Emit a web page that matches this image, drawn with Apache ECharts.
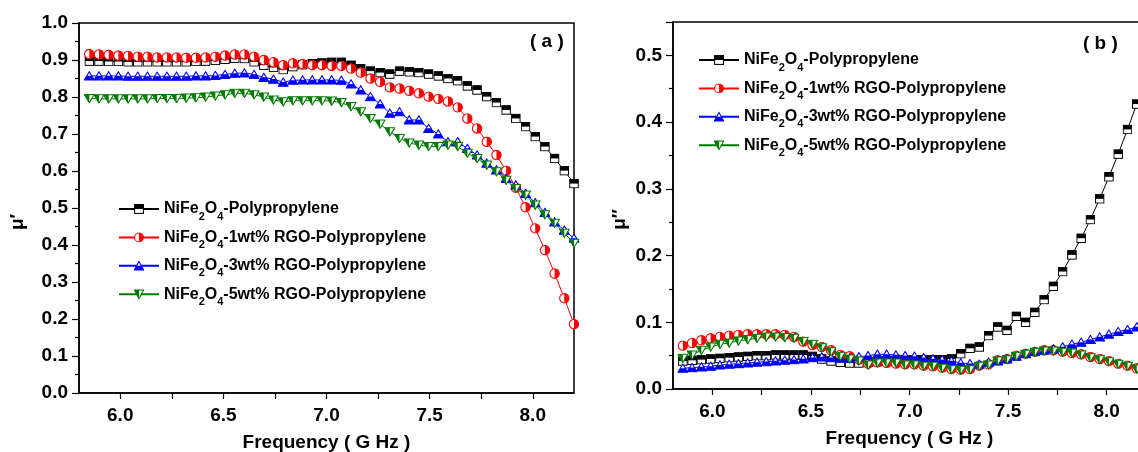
<!DOCTYPE html>
<html>
<head>
<meta charset="utf-8">
<title>NiFe2O4 permeability</title>
<script src="https://cdn.jsdelivr.net/npm/echarts@6/dist/echarts.min.js"></script>
<style>
  body { margin: 0; background: #fff; }
  #main { width: 1138px; height: 452px; }
</style>
</head>
<body>
<div id="main"></div>
<script>
// frequency points (GHz)
var freq = [5.850, 5.897, 5.944, 5.991, 6.038, 6.085, 6.132, 6.179, 6.226, 6.273,
            6.320, 6.367, 6.414, 6.461, 6.508, 6.555, 6.602, 6.649, 6.696, 6.743,
            6.790, 6.837, 6.884, 6.931, 6.978, 7.025, 7.072, 7.119, 7.166, 7.213,
            7.260, 7.307, 7.354, 7.401, 7.448, 7.495, 7.542, 7.589, 7.636, 7.683,
            7.730, 7.777, 7.824, 7.871, 7.918, 7.965, 8.012, 8.059, 8.106, 8.153, 8.200];

var names = ['NiFe2O4-Polypropylene', 'NiFe2O4-1wt% RGO-Polypropylene',
             'NiFe2O4-3wt% RGO-Polypropylene', 'NiFe2O4-5wt% RGO-Polypropylene'];

// (a) real part mu'
var real0 = [0.897, 0.897, 0.896, 0.896, 0.895, 0.895, 0.895, 0.895, 0.895, 0.895,
             0.895, 0.896, 0.897, 0.899, 0.902, 0.905, 0.904, 0.895, 0.886, 0.880,
             0.874, 0.882, 0.887, 0.890, 0.892, 0.894, 0.894, 0.886, 0.877, 0.870,
             0.866, 0.862, 0.870, 0.868, 0.866, 0.862, 0.857, 0.850, 0.844, 0.830,
             0.819, 0.801, 0.785, 0.765, 0.742, 0.720, 0.693, 0.666, 0.634, 0.601, 0.566];
var real1 = [0.916, 0.915, 0.914, 0.912, 0.911, 0.909, 0.909, 0.907, 0.907, 0.907,
             0.906, 0.906, 0.907, 0.909, 0.912, 0.915, 0.915, 0.909, 0.900, 0.894,
             0.886, 0.891, 0.889, 0.886, 0.886, 0.884, 0.884, 0.877, 0.866, 0.850,
             0.841, 0.826, 0.823, 0.817, 0.810, 0.801, 0.795, 0.788, 0.772, 0.742,
             0.715, 0.679, 0.643, 0.601, 0.555, 0.502, 0.445, 0.386, 0.323, 0.256, 0.186];
var real3 = [0.857, 0.857, 0.857, 0.857, 0.856, 0.856, 0.856, 0.856, 0.856, 0.856,
             0.856, 0.857, 0.857, 0.858, 0.861, 0.864, 0.865, 0.861, 0.853, 0.848,
             0.840, 0.845, 0.846, 0.846, 0.846, 0.846, 0.845, 0.835, 0.819, 0.801,
             0.781, 0.756, 0.760, 0.738, 0.738, 0.715, 0.700, 0.679, 0.679, 0.661,
             0.643, 0.621, 0.603, 0.580, 0.562, 0.539, 0.514, 0.488, 0.462, 0.440, 0.418];
var real5 = [0.796, 0.795, 0.795, 0.795, 0.795, 0.795, 0.795, 0.796, 0.796, 0.796,
             0.797, 0.798, 0.800, 0.803, 0.806, 0.810, 0.810, 0.806, 0.800, 0.792,
             0.787, 0.790, 0.790, 0.790, 0.790, 0.789, 0.785, 0.774, 0.760, 0.742,
             0.727, 0.706, 0.688, 0.676, 0.670, 0.666, 0.666, 0.670, 0.666, 0.648,
             0.634, 0.616, 0.598, 0.575, 0.553, 0.535, 0.508, 0.482, 0.459, 0.432, 0.405];

// (b) imaginary part mu''
var imag0 = [0.042, 0.043, 0.044, 0.045, 0.046, 0.047, 0.048, 0.049, 0.050, 0.050,
             0.051, 0.051, 0.051, 0.051, 0.049, 0.045, 0.042, 0.040, 0.039, 0.039,
             0.040, 0.041, 0.042, 0.043, 0.044, 0.044, 0.044, 0.044, 0.044, 0.045,
             0.053, 0.061, 0.063, 0.080, 0.093, 0.088, 0.109, 0.100, 0.115, 0.134,
             0.154, 0.176, 0.201, 0.226, 0.254, 0.285, 0.318, 0.352, 0.389, 0.427, 0.460];
var imag1 = [0.065, 0.069, 0.073, 0.076, 0.078, 0.080, 0.081, 0.082, 0.082, 0.082,
             0.082, 0.081, 0.078, 0.071, 0.066, 0.063, 0.058, 0.051, 0.049, 0.044,
             0.038, 0.040, 0.039, 0.038, 0.037, 0.037, 0.035, 0.034, 0.032, 0.030,
             0.029, 0.030, 0.035, 0.037, 0.043, 0.045, 0.050, 0.053, 0.056, 0.058,
             0.058, 0.056, 0.054, 0.052, 0.048, 0.045, 0.042, 0.038, 0.035, 0.031, 0.028];
var imag3 = [0.031, 0.032, 0.033, 0.034, 0.036, 0.037, 0.038, 0.039, 0.040, 0.041,
             0.042, 0.043, 0.044, 0.045, 0.047, 0.048, 0.047, 0.046, 0.046, 0.048,
             0.050, 0.052, 0.052, 0.051, 0.050, 0.049, 0.047, 0.045, 0.044, 0.042,
             0.039, 0.038, 0.037, 0.040, 0.042, 0.045, 0.049, 0.053, 0.056, 0.058,
             0.060, 0.063, 0.067, 0.070, 0.074, 0.078, 0.082, 0.086, 0.089, 0.093, 0.096];
var imag5 = [0.046, 0.051, 0.058, 0.063, 0.067, 0.069, 0.072, 0.074, 0.076, 0.078,
             0.078, 0.077, 0.076, 0.071, 0.067, 0.062, 0.056, 0.049, 0.045, 0.042,
             0.036, 0.039, 0.039, 0.039, 0.036, 0.036, 0.034, 0.034, 0.031, 0.029,
             0.028, 0.029, 0.034, 0.036, 0.042, 0.044, 0.049, 0.052, 0.055, 0.057,
             0.057, 0.055, 0.054, 0.051, 0.047, 0.044, 0.041, 0.037, 0.034, 0.030, 0.027];

var xLabels = [6.0, 6.5, 7.0, 7.5, 8.0];
var xTickMarks = [6.0, 6.25, 6.5, 6.75, 7.0, 7.25, 7.5, 7.75, 8.0];

var colors = ['#000000', '#ff0000', '#0000ff', '#007a00'];

// half-filled Origin-style markers
function svgSymbol(body) {
    var svg = '<svg xmlns="http://www.w3.org/2000/svg" width="20" height="20" viewBox="0 0 20 20">' + body + '</svg>';
    return 'image://data:image/svg+xml;charset=utf-8,' + encodeURIComponent(svg);
}
var symbols = [
    svgSymbol('<rect x="1.5" y="1.5" width="17" height="17" fill="#fff" stroke="#000" stroke-width="2"/>' +
              '<rect x="1.5" y="1.5" width="17" height="8.5" fill="#000"/>'),
    svgSymbol('<circle cx="10" cy="10" r="8.5" fill="#fff" stroke="#ff0000" stroke-width="2"/>' +
              '<path d="M10 1.5 A8.5 8.5 0 0 1 10 18.5 Z" fill="#ff0000"/>'),
    svgSymbol('<polygon points="10,1.5 19,18 1,18" fill="#fff" stroke="#0000ff" stroke-width="2" stroke-linejoin="miter"/>' +
              '<polygon points="5.5,9.75 14.5,9.75 19,18 1,18" fill="#0000ff"/>'),
    svgSymbol('<polygon points="1,2 19,2 10,18.5" fill="#fff" stroke="#007a00" stroke-width="2"/>' +
              '<polygon points="1,2 10,2 10,18.5" fill="#007a00"/>')
];
var symbolSizes = [[10, 10], [11, 11], [11, 10], [11, 10]];

function pairs(ys) {
    return ys.map(function (y, i) { return [freq[i], y]; });
}

var font = 'Arial, "Liberation Sans", sans-serif';
var tickFont = { fontSize: 19, fontWeight: 'bold', color: '#000', fontFamily: font };

function xAxisFor(gi) {
    return {
        gridIndex: gi, type: 'value', min: 5.8, max: 8.2,
        name: 'Frequency ( G Hz )', nameLocation: 'middle', nameGap: 40,
        nameTextStyle: { fontSize: 19, fontWeight: 'bold', color: '#000', fontFamily: font },
        axisLine: { lineStyle: { color: '#000', width: 1.5 } },
        axisTick: { show: true, length: 6, customValues: xTickMarks, lineStyle: { color: '#000', width: 1.2 } },
        axisLabel: Object.assign({ margin: 13, customValues: xLabels, formatter: function (v) { return v.toFixed(1); } }, tickFont),
        splitLine: { show: false }
    };
}

function yAxisFor(gi, max, name, gap) {
    return {
        gridIndex: gi, type: 'value', min: 0, max: max, interval: 0.1,
        name: name, nameLocation: 'middle', nameGap: gap,
        nameTextStyle: { fontSize: 19, fontWeight: 'bold', color: '#000', fontFamily: font, padding: [0, 28, 0, 0] },
        axisLine: { show: true, lineStyle: { color: '#000', width: 1.5 } },
        axisTick: { show: true, length: 7, lineStyle: { color: '#000', width: 1.2 } },
        minorTick: { show: true, splitNumber: 2, length: 4, lineStyle: { color: '#000', width: 1.2 } },
        axisLabel: Object.assign({ margin: 11, showMaxLabel: max === 1.0,
            formatter: function (v) { return v.toFixed(1); } }, tickFont),
        splitLine: { show: false }
    };
}

var series = [];
[[real0, real1, real3, real5], [imag0, imag1, imag3, imag5]].forEach(function (set, gi) {
    set.forEach(function (ys, k) {
        series.push({
            name: names[k], type: 'line', xAxisIndex: gi, yAxisIndex: gi,
            data: pairs(ys),
            color: colors[k],
            symbol: symbols[k], symbolSize: symbolSizes[k], showAllSymbol: true,
            lineStyle: { color: colors[k], width: 1 },
            emphasis: { disabled: true }
        });
    });
});

function legendAt(left, top, gap) {
    return {
        orient: 'vertical', left: left, top: top, padding: 0,
        itemWidth: 40, itemHeight: 13, itemGap: gap,
        data: names,
        formatter: function (n) { return n.replace('NiFe2O4', 'NiFe{s|2}O{s|4}'); },
        textStyle: {
            fontSize: 16, fontWeight: 'bold', color: '#000', fontFamily: font,
            rich: { s: { fontSize: 11, fontWeight: 'bold', color: '#000', fontFamily: font, lineHeight: 12, padding: [15, 0, 0, 0] } }
        }
    };
}

var chart = echarts.init(document.getElementById('main'), null, { renderer: 'canvas' });
chart.setOption({
    animation: false,
    backgroundColor: '#fff',
    title: [
        { text: '( a )', left: 530, top: 32, padding: 0, textStyle: { fontSize: 19, fontWeight: 'bold', color: '#000', fontFamily: font } },
        { text: '( b )', left: 1083, top: 34, padding: 0, textStyle: { fontSize: 19, fontWeight: 'bold', color: '#000', fontFamily: font } }
    ],
    grid: [
        { left: 79, top: 23, width: 495, height: 370, show: true, borderColor: '#000', borderWidth: 1.5, outerBoundsMode: 'none' },
        { left: 673, top: 22, width: 473, height: 367, show: true, borderColor: '#000', borderWidth: 1.5, outerBoundsMode: 'none' }
    ],
    legend: [legendAt(118, 196, 2.4), legendAt(698, 47, 2.4)],
    xAxis: [xAxisFor(0), xAxisFor(1)],
    yAxis: [yAxisFor(0, 1.0, 'μ′', 52), yAxisFor(1, 0.55, 'μ″', 44)],
    series: series
});
</script>
</body>
</html>
